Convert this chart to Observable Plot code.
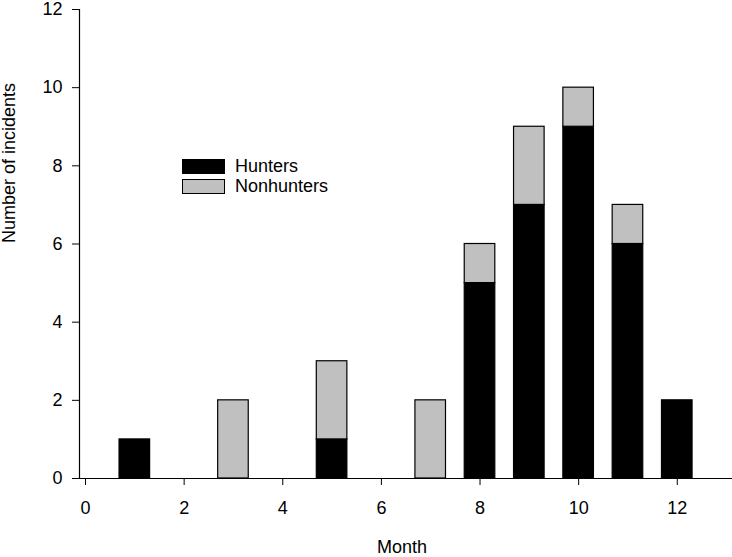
<!DOCTYPE html>
<html>
<head>
<meta charset="utf-8">
<script src="https://cdn.jsdelivr.net/npm/d3@7"></script>
<script src="https://cdn.jsdelivr.net/npm/@observablehq/plot@0.6"></script>
<style>
  body { margin: 0; background: white; }
  #wrap { position: relative; width: 732px; height: 557px; font-family: "Liberation Sans", Arial, sans-serif; }
  .leg { position: absolute; left: 182px; font-size: 18px; color: black; }
  .leg .sw { position: absolute; left: 0; width: 41px; height: 13px; border: 1px solid black; box-sizing: content-box; }
  .leg .lb { position: absolute; left: 53px; white-space: nowrap; line-height: 18px; }
</style>
</head>
<body>
<div id="wrap"></div>
<script>
const months = [1, 3, 5, 7, 8, 9, 10, 11, 12];
const hunters = [1, 0, 1, 0, 5, 7, 9, 6, 2];
const nonhunters = [0, 2, 2, 2, 1, 2, 1, 1, 0];
const seriesNames = ["Hunters", "Nonhunters"];
const seriesColors = ["#000000", "#c0c0c0"];
const xTicks = [0, 2, 4, 6, 8, 10, 12];
const yTicks = [0, 2, 4, 6, 8, 10, 12];
const xDomain = [-0.122, 13.12];
const yDomain = [0, 12];
const barHalf = 0.31;

const segs = [];
months.forEach((m, i) => {
  if (hunters[i] > 0) segs.push({month: m, series: seriesNames[0], y1: 0, y2: hunters[i]});
  if (nonhunters[i] > 0) segs.push({month: m, series: seriesNames[1], y1: hunters[i], y2: hunters[i] + nonhunters[i]});
});

const chart = Plot.plot({
  width: 732,
  height: 557,
  marginLeft: 79,
  marginRight: 0,
  marginTop: 9,
  marginBottom: 79,
  style: {fontFamily: "'Liberation Sans', Arial, sans-serif", fontSize: "18px", color: "black", background: "white", overflow: "visible"},
  x: {domain: xDomain},
  y: {domain: yDomain},
  color: {domain: seriesNames, range: seriesColors},
  marks: [
    Plot.rectY(segs, {
      x1: d => d.month - barHalf,
      x2: d => d.month + barHalf,
      y1: "y1",
      y2: "y2",
      fill: "series",
      stroke: "black",
      strokeWidth: 1.2
    }),
    Plot.ruleY([0], {stroke: "black", strokeWidth: 1.2}),
    Plot.ruleX([xDomain[0]], {stroke: "black", strokeWidth: 1.2}),
    Plot.axisX({ticks: xTicks, tickSize: 7, tickPadding: 16, label: null, fontSize: 18, tickFormat: d => String(d)}),
    Plot.axisY({ticks: yTicks, tickSize: 7, tickPadding: 10, label: null, fontSize: 18, tickFormat: d => String(d)}),
    Plot.text(["Month"], {frameAnchor: "bottom", dy: 62, dx: -4, lineAnchor: "top", fontSize: 18, fill: "black"}),
    Plot.text(["Number of incidents"], {frameAnchor: "left", rotate: -90, dx: -77, dy: -1, lineAnchor: "top", fontSize: 18, fill: "black"})
  ]
});

const wrap = document.getElementById("wrap");
wrap.appendChild(chart);

const legTops = [159, 179];
seriesNames.forEach((name, i) => {
  const row = document.createElement("div");
  row.className = "leg";
  row.style.top = legTops[i] + "px";
  const sw = document.createElement("div");
  sw.className = "sw";
  sw.style.background = seriesColors[i];
  const lb = document.createElement("div");
  lb.className = "lb";
  lb.style.top = "-2px";
  lb.textContent = name;
  row.appendChild(sw);
  row.appendChild(lb);
  wrap.appendChild(row);
});
</script>
</body>
</html>
